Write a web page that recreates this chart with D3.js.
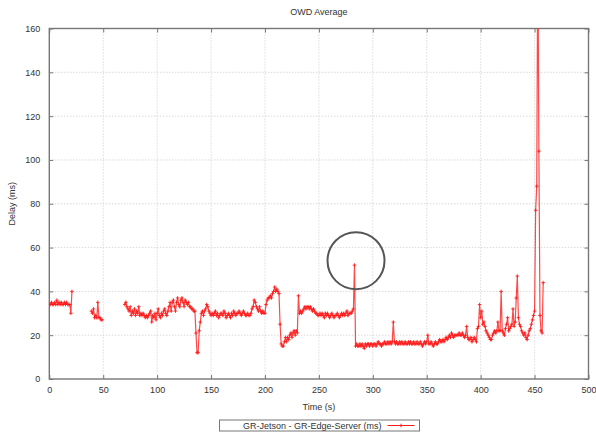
<!DOCTYPE html>
<html>
<head>
<meta charset="utf-8">
<script src="https://cdn.jsdelivr.net/npm/d3@7"></script>
<style>
  html, body { margin: 0; padding: 0; background: #fff; }
  svg { display: block; font-family: "Liberation Sans", Arial, sans-serif; }
</style>
</head>
<body>
<div id="chart"></div>
<script>
const d3 = window["d3"];

const chartTitle = "OWD Average";
const xLabel = "Time (s)";
const yLabel = "Delay (ms)";
const seriesName = "GR-Jetson - GR-Edge-Server (ms)";
const xTicks = [0, 50, 100, 150, 200, 250, 300, 350, 400, 450, 500];
const yTicks = [0, 20, 40, 60, 80, 100, 120, 140, 160];

// one sample per second; each segment starts at the given second
const segmentStarts = [0, 39, 70];

const segmentA = [
  34, 34, 35, 34, 34, 35, 34, 36, 34, 35,
  34, 35, 34, 34, 35, 34, 35, 34, 34, 34,
  30, 40
];

const segmentB = [31, 30, 32, 28, 29, 28, 35, 28, 28, 27, 27];

const segmentC = [
  34, 35, 33, 32, 31, 33, 29, 31, 30, 32,   // 70
  29, 31, 30, 33, 29, 30, 29, 30, 29, 28,   // 80
  29, 28, 29, 30, 31, 26, 29, 28, 30, 27,   // 90
  30, 32, 29, 28, 30, 29, 31, 32, 30, 29,   // 100
  31, 33, 35, 31, 35, 36, 33, 31, 35, 37,   // 110
  34, 33, 36, 37, 35, 33, 36, 35, 34, 35,   // 120
  33, 33, 32, 32, 31, 31, 21, 12, 12, 22,   // 130
  26, 30, 31, 29, 31, 32, 34, 33, 31, 30,   // 140
  29, 30, 29, 30, 31, 29, 30, 28, 29, 30,   // 150
  30, 29, 31, 30, 28, 29, 30, 29, 28, 30,   // 160
  29, 31, 30, 29, 30, 30, 31, 30, 29, 30,   // 170
  31, 30, 29, 29, 30, 29, 29, 30, 32, 33,   // 180
  36, 35, 33, 32, 31, 33, 31, 30, 31, 30,   // 190
  30, 34, 36, 37, 37, 38, 37, 39, 40, 42,   // 200
  40, 41, 40, 39, 25, 16, 15, 15, 17, 19,   // 210
  17, 19, 18, 20, 21, 19, 21, 22, 20, 22,   // 220
  21, 38, 30, 31, 30, 31, 32, 33, 32, 33,   // 230
  33, 32, 33, 32, 31, 32, 31, 30, 30, 29,   // 240
  29, 30, 29, 30, 29, 28, 30, 29, 30, 29,   // 250
  28, 29, 30, 29, 28, 29, 29, 30, 29, 28,   // 260
  29, 30, 29, 30, 29, 30, 31, 29, 30, 30,   // 270
  30, 31, 32, 52, 15, 16, 15, 15, 16, 15,   // 280
  16, 15, 14, 16, 15, 16, 16, 15, 16, 16,   // 290
  15, 16, 16, 15, 16, 17, 16, 16, 15, 16,   // 300
  16, 17, 16, 16, 17, 16, 17, 16, 17, 26,   // 310
  17, 16, 17, 16, 16, 17, 16, 17, 16, 16,   // 320
  17, 16, 16, 17, 16, 17, 16, 16, 17, 16,   // 330
  16, 17, 16, 16, 17, 16, 15, 16, 17, 16,   // 340
  17, 20, 16, 16, 17, 16, 15, 16, 17, 16,   // 350
  16, 17, 18, 17, 17, 18, 17, 18, 19, 18,   // 360
  19, 20, 19, 21, 20, 19, 20, 20, 20, 20,   // 370
  21, 20, 20, 21, 20, 19, 20, 24, 19, 18,   // 380
  18, 19, 17, 18, 19, 18, 17, 23, 24, 34,   // 390
  28, 31, 25, 26, 24, 22, 21, 20, 19, 18,   // 400
  18, 20, 21, 22, 21, 22, 26, 22, 22, 40,   // 410
  22, 21, 20, 23, 25, 28, 22, 23, 24, 25,   // 420
  32, 24, 26, 37, 47, 28, 25, 24, 22, 21,   // 430
  20, 21, 19, 18, 20, 22, 23, 25, 27, 29,   // 440
  31, 77, 88, 200, 104, 29, 22, 21, 44      // 450
];

const segments = [segmentA, segmentB, segmentC].map((values, i) =>
  values.map((v, j) => ({ t: segmentStarts[i] + j, v }))
);

const width = 596;
const height = 434;
const plot = { left: 49.3, right: 588.5, top: 28.5, bottom: 379 };

const svg = d3.select("#chart")
  .append("svg")
  .attr("width", width)
  .attr("height", height);

const x = d3.scaleLinear().domain([0, 500]).range([plot.left, plot.right]);
const y = d3.scaleLinear().domain([0, 160]).range([plot.bottom, plot.top]);

// grid
const grid = svg.append("g")
  .attr("stroke", "#c8c8c8")
  .attr("stroke-width", 1)
  .attr("stroke-dasharray", "1,2");

grid.selectAll("line.vgrid")
  .data(xTicks.slice(1, -1))
  .join("line")
  .attr("x1", d => x(d)).attr("x2", d => x(d))
  .attr("y1", plot.top).attr("y2", plot.bottom);

grid.selectAll("line.hgrid")
  .data(yTicks.slice(1, -1))
  .join("line")
  .attr("x1", plot.left).attr("x2", plot.right)
  .attr("y1", d => y(d)).attr("y2", d => y(d));

// axes with inward ticks
const axisColor = "#777";
const labelColor = "#333";

svg.append("g")
  .attr("transform", `translate(0, ${plot.bottom})`)
  .call(d3.axisBottom(x).tickValues(xTicks).tickSize(-4).tickPadding(8))
  .call(g => g.select(".domain").remove())
  .call(g => g.selectAll("line").attr("stroke", axisColor))
  .call(g => g.selectAll("text").attr("fill", labelColor).attr("font-size", 9));

svg.append("g")
  .attr("transform", `translate(0, ${plot.top})`)
  .call(d3.axisTop(x).tickValues(xTicks).tickSize(-4).tickFormat(""))
  .call(g => g.select(".domain").remove())
  .call(g => g.selectAll("line").attr("stroke", axisColor));

svg.append("g")
  .attr("transform", `translate(${plot.left}, 0)`)
  .call(d3.axisLeft(y).tickValues(yTicks).tickSize(-4).tickPadding(9))
  .call(g => g.select(".domain").remove())
  .call(g => g.selectAll("line").attr("stroke", axisColor))
  .call(g => g.selectAll("text").attr("fill", labelColor).attr("font-size", 9));

svg.append("g")
  .attr("transform", `translate(${plot.right}, 0)`)
  .call(d3.axisRight(y).tickValues(yTicks).tickSize(-4).tickFormat(""))
  .call(g => g.select(".domain").remove())
  .call(g => g.selectAll("line").attr("stroke", axisColor));

svg.append("rect")
  .attr("x", plot.left)
  .attr("y", plot.top)
  .attr("width", plot.right - plot.left)
  .attr("height", plot.bottom - plot.top)
  .attr("fill", "none")
  .attr("stroke", axisColor)
  .attr("stroke-width", 1.4);

// series
svg.append("clipPath")
  .attr("id", "plot-clip")
  .append("rect")
  .attr("x", plot.left)
  .attr("y", plot.top)
  .attr("width", plot.right - plot.left)
  .attr("height", plot.bottom - plot.top);

const series = svg.append("g").attr("clip-path", "url(#plot-clip)");
const lineColor = "#ff1a1a";

const line = d3.line()
  .x(d => x(d.t))
  .y(d => y(d.v));

series.selectAll("path.segment")
  .data(segments)
  .join("path")
  .attr("class", "segment")
  .attr("d", line)
  .attr("fill", "none")
  .attr("stroke", lineColor)
  .attr("stroke-width", 1.2)
  .attr("stroke-opacity", 0.8);

const plusPath = s => `M${-s},0H${s}M0,${-s}V${s}`;

series.selectAll("path.marker")
  .data(segments.flat())
  .join("path")
  .attr("class", "marker")
  .attr("transform", d => `translate(${x(d.t)}, ${y(d.v)})`)
  .attr("d", plusPath(1.8))
  .attr("stroke", lineColor)
  .attr("stroke-width", 1)
  .attr("stroke-opacity", 0.85);

// texts
svg.append("text")
  .attr("x", (plot.left + plot.right) / 2)
  .attr("y", 15)
  .attr("text-anchor", "middle")
  .attr("font-size", 9)
  .attr("fill", labelColor)
  .text(chartTitle);

svg.append("text")
  .attr("x", (plot.left + plot.right) / 2)
  .attr("y", 410)
  .attr("text-anchor", "middle")
  .attr("font-size", 9)
  .attr("fill", labelColor)
  .text(xLabel);

svg.append("text")
  .attr("transform", `translate(15, ${(plot.top + plot.bottom) / 2}) rotate(-90)`)
  .attr("text-anchor", "middle")
  .attr("font-size", 9)
  .attr("fill", labelColor)
  .text(yLabel);

// annotation circle round the spike
svg.append("circle")
  .attr("cx", x(283.5) + 1)
  .attr("cy", y(54))
  .attr("r", 28.5)
  .attr("fill", "none")
  .attr("stroke", "#555")
  .attr("stroke-width", 2);

// legend
const legend = svg.append("g").attr("transform", "translate(219.5, 420)");

legend.append("rect")
  .attr("width", 200)
  .attr("height", 11)
  .attr("fill", "#fff")
  .attr("stroke", axisColor)
  .attr("stroke-width", 1);

legend.append("text")
  .attr("x", 162)
  .attr("y", 8.5)
  .attr("text-anchor", "end")
  .attr("font-size", 9)
  .attr("fill", labelColor)
  .text(seriesName);

legend.append("line")
  .attr("x1", 168).attr("x2", 195)
  .attr("y1", 5.5).attr("y2", 5.5)
  .attr("stroke", lineColor)
  .attr("stroke-width", 1);

legend.append("path")
  .attr("transform", "translate(181.5, 5.5)")
  .attr("d", plusPath(1.8))
  .attr("stroke", lineColor)
  .attr("stroke-width", 1);
</script>
</body>
</html>
